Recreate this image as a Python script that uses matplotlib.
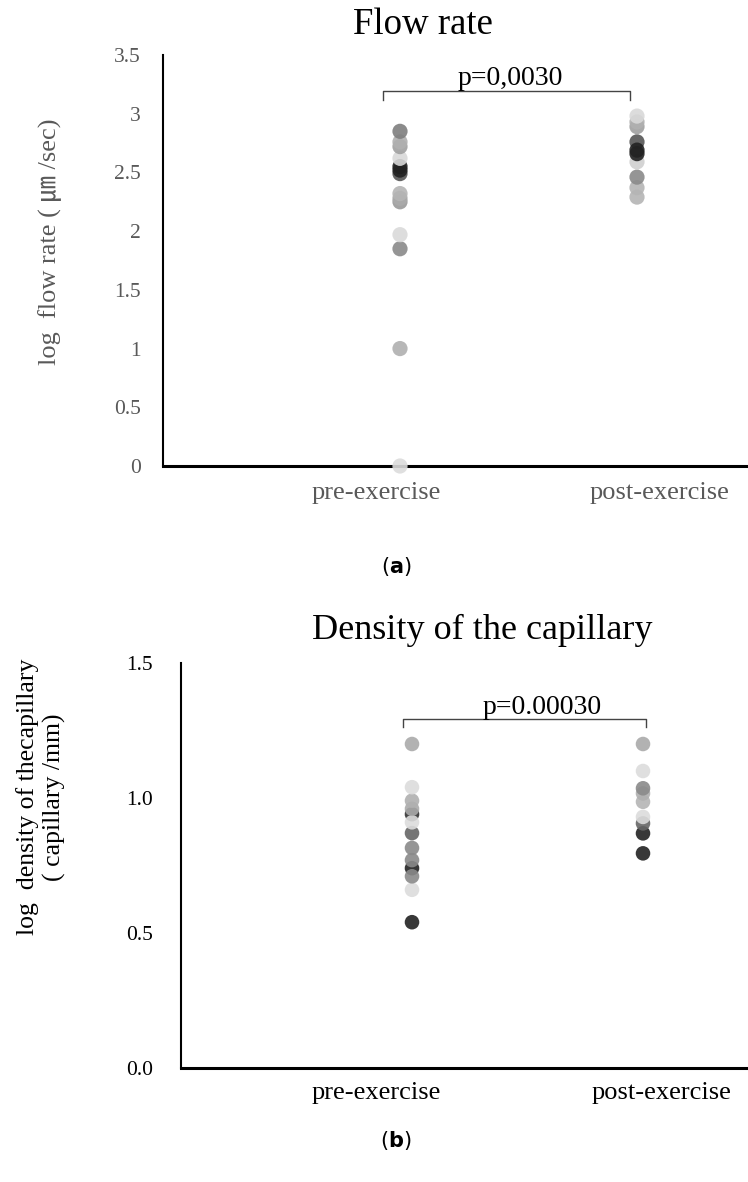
import matplotlib.pyplot as plt
import numpy as np

plt.rcParams['font.family'] = ['Liberation Serif', 'Noto Sans CJK JP', 'DejaVu Sans']

# Flow rate (log um/sec)
flow_pre = [0.00, 1.00, 1.85, 1.97, 2.49, 2.55, 2.52, 2.25, 2.28, 2.32, 2.62, 2.72, 2.76, 2.85]
flow_pre_col = ['#dcdcdc', '#b0b0b0', '#8a8a8a', '#dadada', '#555555', '#222222', '#222222',
                '#999999', '#aaaaaa', '#b5b5b5', '#d9d9d9', '#a0a0a0', '#b0b0b0', '#7f7f7f']
flow_post = [2.29, 2.37, 2.46, 2.59, 2.76, 2.69, 2.66, 2.89, 2.93, 2.98]
flow_post_col = ['#b5b5b5', '#b5b5b5', '#8a8a8a', '#d0d0d0', '#555555', '#222222', '#222222',
                 '#a0a0a0', '#b0b0b0', '#d9d9d9']

# Capillary density (log capillary/mm)
dens_pre = [0.94, 0.74, 0.54, 0.66, 0.71, 0.77, 0.815, 0.87, 0.91, 0.96, 0.99, 1.04, 1.20]
dens_pre_col = ['#333333', '#222222', '#222222', '#dcdcdc', '#8a8a8a', '#8a8a8a', '#8a8a8a',
                '#666666', '#dcdcdc', '#aaaaaa', '#b0b0b0', '#dcdcdc', '#aaaaaa']
dens_post = [0.795, 0.869, 0.906, 0.93, 0.986, 1.017, 1.036, 1.10, 1.20]
dens_post_col = ['#222222', '#222222', '#666666', '#dcdcdc', '#b5b5b5', '#b0b0b0', '#8a8a8a',
                 '#dcdcdc', '#aaaaaa']

groups = ['pre-exercise', 'post-exercise']

fig = plt.figure(figsize=(7.48, 11.82), dpi=100)

# ---- (a) flow rate ----
ax1 = fig.add_axes([163/748, 1-466/1182, 592.5/748, 411/1182])
ax1.scatter(np.ones(len(flow_pre)), flow_pre, s=120, c=flow_pre_col, alpha=0.9,
            edgecolors='none', zorder=3, clip_on=False)
ax1.scatter(np.full(len(flow_post), 2), flow_post, s=120, c=flow_post_col, alpha=0.9,
            edgecolors='none', zorder=3, clip_on=False)
ax1.set_xlim(0, 2.5)
ax1.set_ylim(0, 3.5)
ax1.set_yticks(np.arange(0, 3.51, 0.5))
ax1.set_yticklabels(['0', '0.5', '1', '1.5', '2', '2.5', '3', '3.5'])
ax1.set_xticks([])
ax1.tick_params(axis='y', length=0, pad=16, labelsize=15.5, labelcolor='#595959')
for s in ['top', 'right']:
    ax1.spines[s].set_visible(False)
ax1.spines['left'].set_linewidth(1.5)
ax1.spines['bottom'].set_linewidth(2.2)
for x, g in zip([0.899, 2.093], groups):
    ax1.text(x, -0.23, g, ha='center', va='center', fontsize=19, color='#595959')
ax1.plot([0.928, 0.928, 1.970, 1.970], [3.12, 3.19, 3.19, 3.12], color='#444444', lw=1)
ax1.text(1.464, 3.30, 'p=0,0030', ha='center', va='center', fontsize=20)

fig.text(423/748, 1-25/1182, 'Flow rate', ha='center', va='center', fontsize=26.5)
fig.text(50/748, 1-242/1182, 'log  flow rate ( ㎛ /sec)', rotation=90,
         ha='center', va='center', fontsize=19, color='#595959')
fig.text(396/748, 1-567/1182, r'($\mathbf{a}$)', ha='center', va='center',
         fontsize=15, family='DejaVu Sans')

# ---- (b) capillary density ----
ax2 = fig.add_axes([181/748, 1-1068/1182, 577.5/748, 405/1182])
ax2.scatter(np.ones(len(dens_pre)), dens_pre, s=110, c=dens_pre_col, alpha=0.9,
            edgecolors='none', zorder=3)
ax2.scatter(np.full(len(dens_post), 2), dens_post, s=110, c=dens_post_col, alpha=0.9,
            edgecolors='none', zorder=3)
ax2.set_xlim(0, 2.5)
ax2.set_ylim(0, 1.5)
ax2.set_yticks([0, 0.5, 1.0, 1.5])
ax2.set_yticklabels(['0.0', '0.5', '1.0', '1.5'])
ax2.set_xticks([])
ax2.tick_params(axis='y', length=0, pad=20, labelsize=15.5, labelcolor='black')
for s in ['top', 'right']:
    ax2.spines[s].set_visible(False)
ax2.spines['left'].set_linewidth(1.5)
ax2.spines['bottom'].set_linewidth(2.2)
for x, g in zip([0.844, 2.078], groups):
    ax2.text(x, -0.093, g, ha='center', va='center', fontsize=19, color='black')
ax2.plot([0.961, 0.961, 2.013, 2.013], [1.263, 1.293, 1.293, 1.263], color='#444444', lw=1)
ax2.text(1.563, 1.335, 'p=0.00030', ha='center', va='center', fontsize=20)

fig.text(482/748, 1-630/1182, 'Density of the capillary', ha='center', va='center', fontsize=26)
fig.text(41/748, 1-797/1182, 'log  density of thecapillary\n( capillary /mm)', rotation=90,
         ha='center', va='center', fontsize=18.5, linespacing=1.2)
fig.text(396/748, 1-1141/1182, r'($\mathbf{b}$)', ha='center', va='center',
         fontsize=15, family='DejaVu Sans')

fig.savefig('out.png', dpi=100)
